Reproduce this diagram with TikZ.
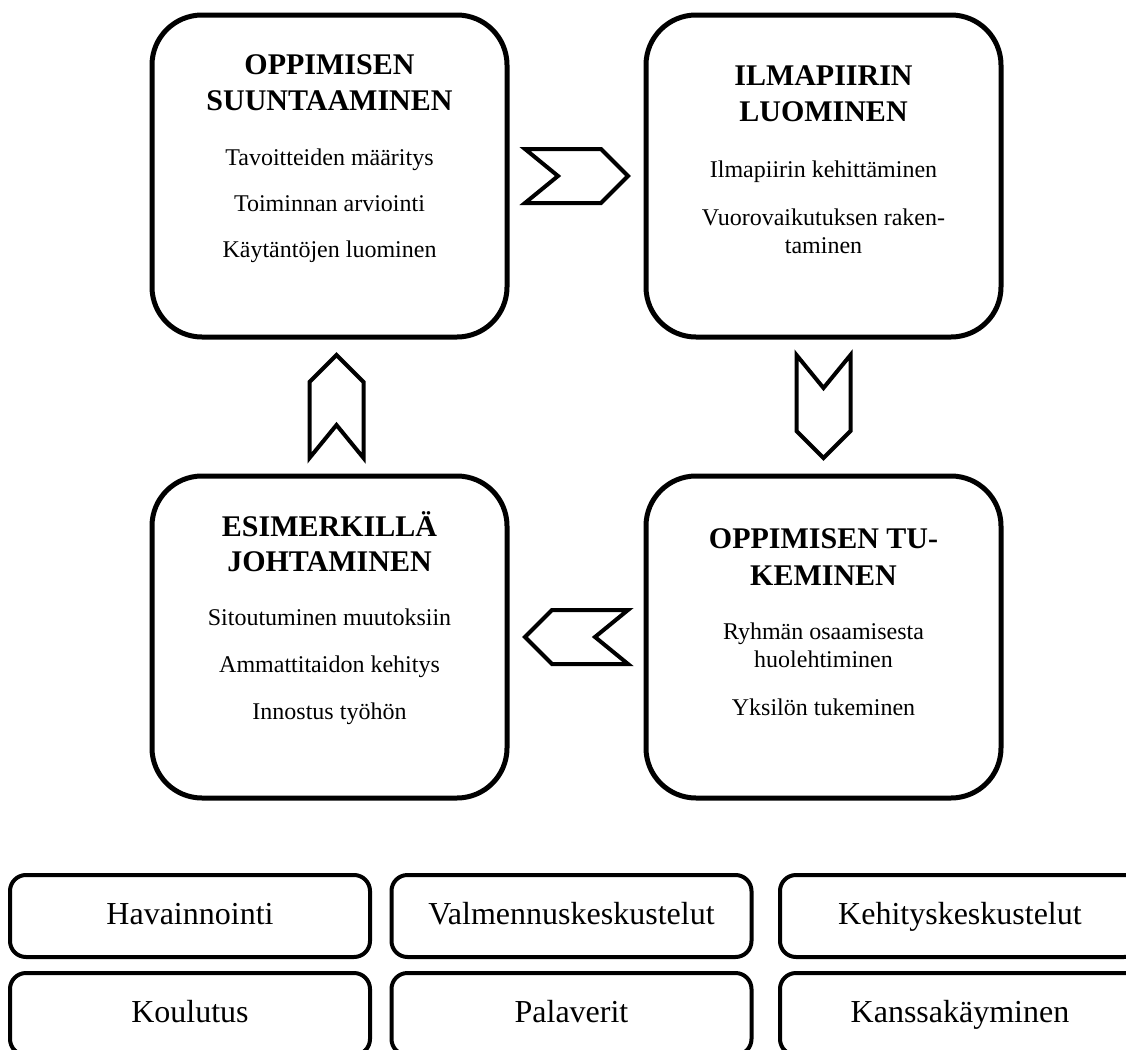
\documentclass[tikz,border=0pt]{standalone}
\usepackage{fontspec}
\setmainfont{Liberation Serif}
\usetikzlibrary{calc}

\tikzset{
  vaihe/.style={draw, line width=2.5pt, rounded corners=25pt, minimum width=177.5pt, minimum height=161pt},
  vaiheteksti/.style={anchor=north, align=center, inner sep=0pt, outer sep=0pt, font=\fontsize{12}{14}\selectfont},
  keino/.style={draw, line width=2pt, rounded corners=8pt, minimum width=180pt, minimum height=41pt, text height=11pt, text depth=3pt, font=\fontsize{16}{19}\selectfont},
  nuoliviiva/.style={line width=2pt, line join=miter},
  pics/nuoli/.style={code={
    \draw[nuoliviiva] (-51.5,-27) -- (24.5,-27) -- (51.5,0) -- (24.5,27) -- (-51.5,27) -- (-18.5,0) -- cycle;
  }}
}
\newcommand{\otsikko}[1]{{\fontsize{15}{18}\selectfont\bfseries #1}}

\begin{document}
\begin{tikzpicture}[x=0.5pt, y=-0.5pt]
  \useasboundingbox (0,0) rectangle (1126,1050);
  \clip (0,0) rectangle (1126,1050);

  % vaiheet
  \node[vaihe] (suuntaaminen) at (329.5,176) {};
  \node[vaihe] (ilmapiiri) at (823.5,176) {};
  \node[vaihe] (esimerkki) at (329.5,637) {};
  \node[vaihe] (tukeminen) at (823.5,637) {};

  \node[vaiheteksti, yshift=-21pt] (suuntaaminen-t) at (suuntaaminen.north)
    {\otsikko{OPPIMISEN}\\[4pt] \otsikko{SUUNTAAMINEN}\\[13.5pt] Tavoitteiden määritys\\[9pt] Toiminnan arviointi\\[9pt] Käytäntöjen luominen};
  \node[vaiheteksti, yshift=-26.5pt] (ilmapiiri-t) at (ilmapiiri.north)
    {\otsikko{ILMAPIIRIN}\\[4pt] \otsikko{LUOMINEN}\\[14pt] Ilmapiirin kehittäminen\\[10pt] Vuorovaikutuksen raken-\\ taminen};
  \node[vaiheteksti, yshift=-19.25pt] (esimerkki-t) at (esimerkki.north)
    {\otsikko{ESIMERKILLÄ}\\[3.5pt] \otsikko{JOHTAMINEN}\\[13pt] Sitoutuminen muutoksiin\\[9.5pt] Ammattitaidon kehitys\\[9.5pt] Innostus työhön};
  \node[vaiheteksti, yshift=-27.75pt] (tukeminen-t) at (tukeminen.north)
    {\otsikko{OPPIMISEN TU-}\\[4.5pt] \otsikko{KEMINEN}\\[13pt] Ryhmän osaamisesta\\ huolehtiminen\\[10pt] Yksilön tukeminen};

  % nuolet
  \pic at ($(suuntaaminen.east)!0.5!(ilmapiiri.west)$) {nuoli};
  \pic[rotate=-90] at ($(ilmapiiri.south)!0.5!(tukeminen.north)$) {nuoli};
  \pic[rotate=180] at ($(tukeminen.west)!0.5!(esimerkki.east)$) {nuoli};
  \pic[xshift=3.5pt, rotate=90] at ($(esimerkki.north)!0.5!(suuntaaminen.south)$) {nuoli};

  % keinot
  \node[keino] (havainnointi) at (190,916) {Havainnointi};
  \node[keino] (valmennus) at (571.5,916) {Valmennuskeskustelut};
  \node[keino] (kehitys) at (960,916) {Kehityskeskustelut};
  \node[keino] (koulutus) at (190,1014) {Koulutus};
  \node[keino] (palaverit) at (571.5,1014) {Palaverit};
  \node[keino] (kanssakayminen) at (960,1014) {Kanssakäyminen};
\end{tikzpicture}
\end{document}
